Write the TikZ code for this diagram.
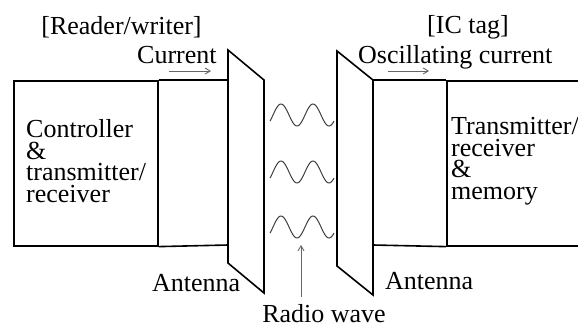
\documentclass[tikz,border=0pt]{standalone}
\usepackage{fontspec}
\setmainfont{Liberation Serif}
\usetikzlibrary{arrows.meta}
\begin{document}
\begin{tikzpicture}[x=1pt,y=-1pt,
  lbl/.style={font=\fontsize{26}{21.5}\selectfont, inner sep=0pt},
  blk/.style={lbl, align=left, anchor=north west},
  boxline/.style={line width=1.6pt, line join=miter},
  flow/.style={draw=black!60, line width=0.9pt, -{Straight Barb[length=5pt,width=6pt]}},
  wave/.style={draw=black!75, line width=1pt}]
\clip (0,0) rectangle (578,327);
\fill[white] (0,0) rectangle (578,327);

% boxes
\node[draw, boxline, anchor=north west, minimum width=144pt, minimum height=165pt, inner sep=0pt] (ctrl) at (13,80) {};
\node[draw, boxline, anchor=north west, minimum width=170pt, minimum height=165pt, inner sep=0pt] (tag) at (446,80) {};

% antennas
\coordinate (la1) at (228,50); \coordinate (la2) at (264,80);
\coordinate (la3) at (264,293); \coordinate (la4) at (228,263);
\coordinate (ra1) at (337,51); \coordinate (ra2) at (373,80);
\coordinate (ra3) at (373,295); \coordinate (ra4) at (337,266);
\draw[boxline] (la1) -- (la2) -- (la3) -- (la4) -- cycle;
\draw[boxline] (ra1) -- (ra2) -- (ra3) -- (ra4) -- cycle;

% feed lines
\coordinate (lt) at (228,80); \coordinate (lb) at (228,245);
\coordinate (rt) at (373,80); \coordinate (rb) at (373,245);
\draw[boxline] (ctrl.north east) -- (lt);
\draw[boxline] (ctrl.south east) -- (lb);
\draw[boxline] (rt) -- (tag.north west);
\draw[boxline] (rb) -- (tag.south west);

% waves
\foreach \c in {115,172,227}
  \draw[wave] plot[domain=270:334, samples=80, smooth] (\x, {\c - 11*sin((\x-273)*11.25)});

% texts
\node[lbl, anchor=base] (rw) at (121.5,34) {[Reader/writer]};
\node[lbl, anchor=base] (ic) at (468,33) {[IC tag]};
\node[lbl, anchor=base west] (cur) at (137,63) {Current};
\node[lbl, anchor=base west] (osc) at (358,63) {Oscillating current};
\node[blk] (ctrltxt) at (26,119.5) {Controller\\\&\\transmitter/\\receiver};
\node[blk] (tagtxt) at (451,117.5) {Transmitter/\\receiver\\\&\\memory};
\node[lbl, anchor=base west] (antl) at (152,291) {Antenna};
\node[lbl, anchor=base west] (antr) at (385,289) {Antenna};
\node[lbl, anchor=base] (radio) at (324,322) {Radio wave};

% flow arrows
\coordinate (c1) at (169,71); \coordinate (c2) at (211,71);
\coordinate (o1) at (388,71); \coordinate (o2) at (429,71);
\coordinate (r1) at (301,297); \coordinate (r2) at (301,245);
\draw[flow] (c1) -- (c2);
\draw[flow] (o1) -- (o2);
\draw[flow] (r1) -- (r2);
\end{tikzpicture}
\end{document}
